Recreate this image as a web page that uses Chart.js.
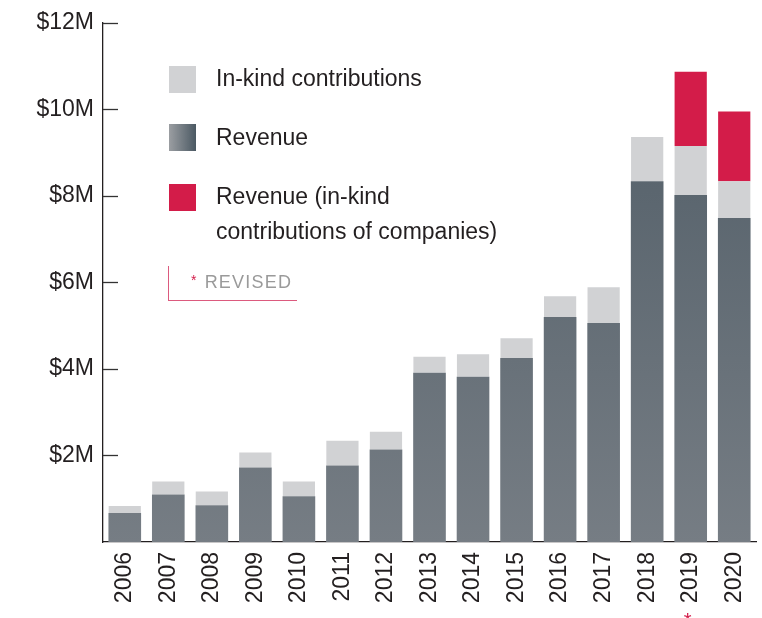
<!DOCTYPE html>
<html>
<head>
<meta charset="utf-8">
<script src="https://cdn.jsdelivr.net/npm/chart.js@4.4.1/dist/chart.umd.min.js"></script>
<style>
  html, body { margin: 0; padding: 0; background: #fff; }
  #wrap { position: relative; width: 762px; height: 618px; overflow: hidden; font-family: "Liberation Sans", Arial, Helvetica, sans-serif; }
  #c { position: absolute; left: 0; top: 0; }
  .sq { position: absolute; width: 27px; height: 27px; }
  .lt { position: absolute; left: 216px; font-size: 23px; color: #231f20; line-height: 35px; white-space: nowrap; }
  #rev { position: absolute; left: 168px; top: 266px; width: 128px; height: 34px; border-left: 1px solid #dc5a7e; border-bottom: 1px solid #dc5a7e; }
  #revtxt { position: absolute; left: 191px; top: 268px; font-size: 18px; letter-spacing: 1.2px; color: #9a9a9a; line-height: 24px; white-space: nowrap; }
  #revtxt span { color: #d31c49; font-size: 14px; vertical-align: 3px; margin-right: 7px; }
</style>
</head>
<body>
<div id="wrap">
  <canvas id="c" width="762" height="618"></canvas>
  <div class="sq" style="left:169px;top:66px;background:#d1d2d4"></div>
  <div class="lt" style="top:61px">In-kind contributions</div>
  <div class="sq" style="left:169px;top:124px;background:linear-gradient(to right,#9b9ea2,#4b5963)"></div>
  <div class="lt" style="top:120px">Revenue</div>
  <div class="sq" style="left:169px;top:184px;background:#d31c49"></div>
  <div class="lt" style="top:179px">Revenue (in-kind<br>contributions of companies)</div>
  <div id="rev"></div>
  <div id="revtxt"><span>*</span>REVISED</div>
</div>
<script>
const years = ["2006","2007","2008","2009","2010","2011","2012","2013","2014","2015","2016","2017","2018","2019","2020"];
const revenue = [0.67,1.10,0.85,1.72,1.06,1.77,2.14,3.91,3.82,4.25,5.20,5.06,8.34,8.02,7.49];
const inKind = [0.16,0.30,0.32,0.35,0.34,0.57,0.41,0.37,0.52,0.46,0.48,0.83,1.02,1.13,0.85];
const inKindCompanies = [null,null,null,null,null,null,null,null,null,null,null,null,null,1.72,1.61];
const yTickValues = [2,4,6,8,10,12];
const revisedYear = "2019";

const FONT = '"Liberation Sans", Arial, Helvetica, sans-serif';

function revGradient(ctx) {
  const chart = ctx.chart;
  const area = chart.chartArea;
  if (!area) return '#6a737a';
  const g = chart.ctx.createLinearGradient(0, area.top, 0, area.bottom);
  g.addColorStop(0, '#4e5b65');
  g.addColorStop(1, '#767d84');
  return g;
}

const tickMarks = {
  id: 'tickMarks',
  afterDraw(chart) {
    const y = chart.scales.y, x = chart.scales.x;
    const c = chart.ctx;
    c.save();
    c.strokeStyle = '#333';
    c.lineWidth = 1.3;
    yTickValues.forEach(v => {
      const py = Math.round(y.getPixelForValue(v)) + 0.5;
      c.beginPath();
      c.moveTo(y.right, py);
      c.lineTo(y.right + 15, py);
      c.stroke();
    });
    const idx = years.indexOf(revisedYear);
    const px = x.getPixelForValue(idx);
    c.fillStyle = '#d31c49';
    c.font = '20px ' + FONT;
    c.textAlign = 'center';
    c.textBaseline = 'top';
    c.fillText('*', px - 3, 611);
    c.restore();
  }
};

new Chart(document.getElementById('c'), {
  type: 'bar',
  data: {
    labels: years,
    datasets: [
      { label: 'Revenue', data: revenue, backgroundColor: revGradient, barPercentage: 0.75, categoryPercentage: 1 },
      { label: 'In-kind contributions', data: inKind, backgroundColor: '#d1d2d4', barPercentage: 0.74, categoryPercentage: 1 },
      { label: 'Revenue (in-kind contributions of companies)', data: inKindCompanies, backgroundColor: '#d31c49', barPercentage: 0.74, categoryPercentage: 1 }
    ]
  },
  options: {
    responsive: false,
    animation: false,
    devicePixelRatio: 1,
    layout: { padding: { left: 0, right: 6, top: 22, bottom: 0 } },
    plugins: { legend: { display: false }, tooltip: { enabled: false } },
    scales: {
      x: {
        stacked: true,
        grid: { display: false, drawTicks: false },
        border: { display: true, color: '#231f20', width: 1.3 },
        ticks: {
          autoSkip: false, maxRotation: 90, minRotation: 90, padding: 10,
          color: '#231f20', font: { family: FONT, size: 23 }
        },
        afterFit(s) { s.height = 76; s.paddingLeft = 0; s.paddingRight = 0; }
      },
      y: {
        stacked: true,
        min: 0, max: 12,
        grid: { display: false, drawTicks: false },
        border: { display: true, color: '#231f20', width: 1.3 },
        ticks: {
          stepSize: 2, padding: 9, color: '#231f20',
          font: { family: FONT, size: 23 },
          callback: v => v === 0 ? '' : '$' + v + 'M'
        },
        afterFit(s) { s.width = 103; }
      }
    }
  },
  plugins: [tickMarks]
});
</script>
</body>
</html>
